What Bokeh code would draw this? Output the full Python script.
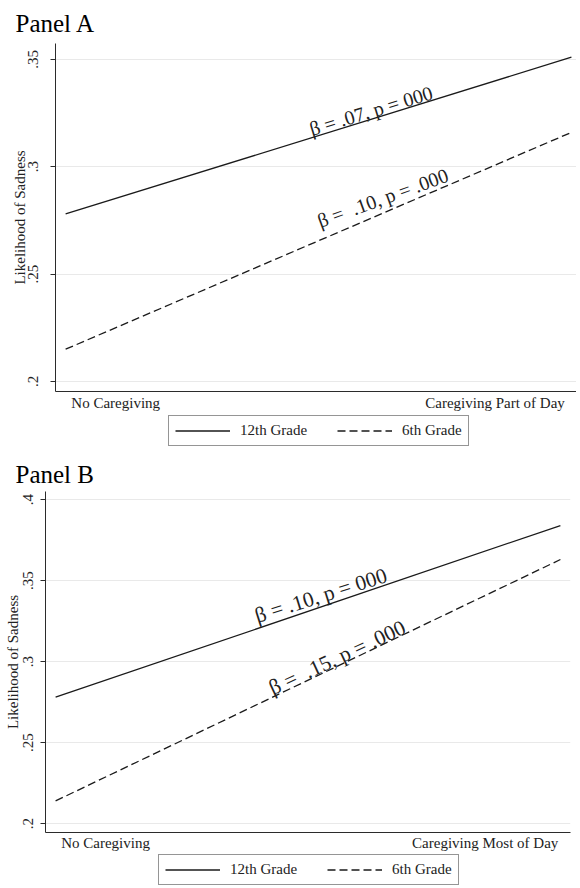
from bokeh.plotting import figure
from bokeh.models import Range1d, FixedTicker, Legend, LegendItem
from bokeh.layouts import column
from bokeh.embed import file_html
from bokeh.resources import INLINE
from bokeh.core.properties import value

FONT = "Liberation Serif"

# ---- data ----
x_levels = [0, 1]
grades = ["12th Grade", "6th Grade"]

panel_titles = ["Panel A", "Panel B"]
a_x_labels = ["No Caregiving", "Caregiving Part of Day"]
b_x_labels = ["No Caregiving", "Caregiving Most of Day"]

a_12th = [0.278, 0.351]
a_6th = [0.215, 0.316]
b_12th = [0.278, 0.384]
b_6th = [0.214, 0.363]

a_ticks = [0.2, 0.25, 0.3, 0.35]
a_tick_labels = [".2", ".25", ".3", ".35"]
b_ticks = [0.2, 0.25, 0.3, 0.35, 0.4]
b_tick_labels = [".2", ".25", ".3", ".35", ".4"]

a_note_text = ["β = .07, p = 000", "β =\u00a0 .10, p = .000"]
a_note_x = [0.483, 0.499]
a_note_y = [0.3174, 0.2745]
a_note_angle = [17, 20]

b_note_text = ["β = .10, p = 000", "β =\u00a0 .15, p = .000"]
b_note_x = [0.396, 0.425]
b_note_y = [0.328, 0.2831]
b_note_angle = [17.5, 25]

y_label = "Likelihood of Sadness"

# where the category texts sit along the x axis (left text starts just right of
# x=0, right text ends just left of x=1)
a_xlabel_anchor = [0.099, 0.849]
b_xlabel_anchor = [0.099, 0.851]

AXIS_COLOR = "#2b2b2b"
LINE_COLOR = "#1a1a1a"
TEXT_COLOR = "#222222"
W = 576


def style_lines(p, s12, s6, **kw):
    r12 = p.line(x_levels, s12, line_color=LINE_COLOR, line_width=1.3, **kw)
    r6 = p.line(x_levels, s6, line_color=LINE_COLOR, line_width=1.3,
                line_dash="8 4", **kw)
    return r12, r6


def make_panel(title, x_labels, x_anchor, s12, s6, ticks, tick_labels, note_text,
               note_x, note_y, note_angle, note_size, y_range, x_range, height,
               border_left, border_right, border_top, border_bottom, title_standoff,
               lab_standoff, ax_standoff, x_standoff):
    p = figure(width=W, height=height, output_backend="svg", toolbar_location=None,
               x_range=Range1d(*x_range), y_range=Range1d(*y_range),
               min_border_left=border_left, min_border_right=border_right,
               min_border_top=border_top, min_border_bottom=border_bottom,
               title=title)
    p.outline_line_color = None
    p.background_fill_color = "white"
    p.border_fill_color = "white"

    p.title.text_font = FONT
    p.title.text_font_size = "25px"
    p.title.text_font_style = "normal"
    p.title.text_color = "black"
    p.title.align = "left"
    p.title.offset = -(border_left - 15)
    p.title.standoff = title_standoff

    style_lines(p, s12, s6)

    p.text(x=note_x, y=note_y, text=note_text, angle=note_angle, angle_units="deg",
           text_font=value(FONT), text_font_size=note_size, text_color=TEXT_COLOR,
           text_align="left", text_baseline="alphabetic")

    # y axis
    yax = p.yaxis[0]
    yax.ticker = FixedTicker(ticks=ticks)
    yax.major_label_overrides = {t: l for t, l in zip(ticks, tick_labels)}
    yax.major_label_orientation = "vertical"
    yax.major_label_text_font = FONT
    yax.major_label_text_font_size = "15px"
    yax.major_label_text_color = TEXT_COLOR
    yax.major_label_standoff = lab_standoff
    yax.axis_label = y_label
    yax.axis_label_text_font = FONT
    yax.axis_label_text_font_size = "15px"
    yax.axis_label_text_font_style = "normal"
    yax.axis_label_text_color = TEXT_COLOR
    yax.axis_label_standoff = ax_standoff
    yax.major_tick_out = 5
    yax.major_tick_in = 0
    yax.minor_tick_line_color = None
    yax.axis_line_color = AXIS_COLOR
    yax.major_tick_line_color = AXIS_COLOR

    # x axis: line plus the two category texts, no tick marks
    xax = p.xaxis[0]
    xax.ticker = FixedTicker(ticks=x_anchor)
    xax.major_label_overrides = {t: l for t, l in zip(x_anchor, x_labels)}
    xax.major_tick_line_color = None
    xax.major_tick_out = 0
    xax.major_tick_in = 0
    xax.minor_tick_line_color = None
    xax.major_label_standoff = x_standoff
    xax.major_label_text_font = FONT
    xax.major_label_text_font_size = "15px"
    xax.major_label_text_color = TEXT_COLOR
    xax.axis_line_color = AXIS_COLOR

    p.xgrid.visible = False
    p.ygrid.ticker = FixedTicker(ticks=ticks)
    p.ygrid.grid_line_color = "#e9e9e9"
    p.ygrid.grid_line_width = 1
    return p


def make_legend_strip(s12, s6, height, border_left, loc):
    q = figure(width=W, height=height, output_backend="svg", toolbar_location=None,
               x_axis_location=None, y_axis_location=None,
               min_border_left=border_left, min_border_right=0,
               min_border_top=0, min_border_bottom=0)
    q.outline_line_color = None
    q.grid.visible = False
    q.background_fill_color = "white"
    q.border_fill_color = "white"
    r12, r6 = style_lines(q, s12, s6, visible=False)
    legend = Legend(items=[LegendItem(label=grades[0], renderers=[r12]),
                           LegendItem(label=grades[1], renderers=[r6])],
                    location=loc, orientation="horizontal",
                    border_line_color=AXIS_COLOR, border_line_width=1,
                    background_fill_color="white", background_fill_alpha=1,
                    inactive_fill_alpha=0,
                    label_text_font=FONT, label_text_font_size="15px",
                    label_text_color=TEXT_COLOR,
                    glyph_width=55, glyph_height=15, label_height=15,
                    label_standoff=10, spacing=30, padding=6, margin=0)
    q.add_layout(legend)
    return q


pA = make_panel(panel_titles[0], a_x_labels, a_xlabel_anchor, a_12th, a_6th, a_ticks,
                a_tick_labels, a_note_text, a_note_x, a_note_y, a_note_angle, "20px",
                y_range=(0.1953, 0.3574), x_range=(-0.02, 1.01), height=413,
                border_left=55, border_right=0, border_top=43, border_bottom=22,
                title_standoff=14, lab_standoff=12, ax_standoff=-2, x_standoff=3)
legA = make_legend_strip(a_12th, a_6th, height=38, border_left=55, loc=(113, 5))

pB = make_panel(panel_titles[1], b_x_labels, b_xlabel_anchor, b_12th, b_6th, b_ticks,
                b_tick_labels, b_note_text, b_note_x, b_note_y, b_note_angle, "21.5px",
                y_range=(0.1945, 0.405), x_range=(-0.02, 1.02), height=402,
                border_left=45, border_right=6, border_top=40, border_bottom=20,
                title_standoff=8, lab_standoff=7, ax_standoff=0, x_standoff=2)
legB = make_legend_strip(b_12th, b_6th, height=33, border_left=45, loc=(113, 1))

layout = column(column(pA, legA), column(pB, legB), spacing=0)
open("out.html", "w").write(file_html(layout, INLINE))
